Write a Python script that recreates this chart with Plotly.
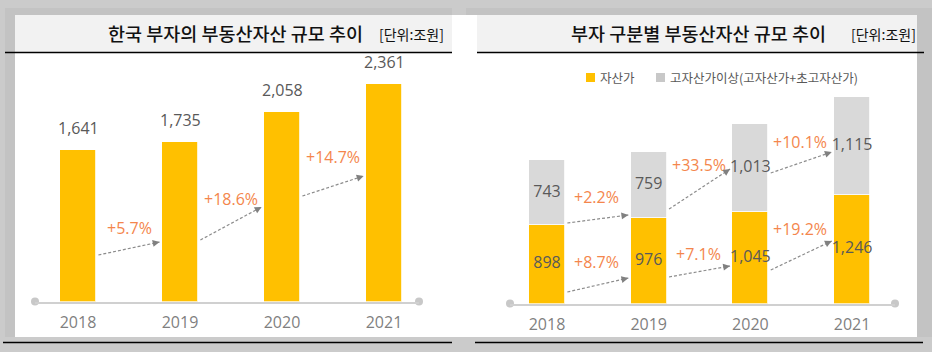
import plotly.graph_objects as go

# ---------------- data ----------------
years = ["2018", "2019", "2020", "2021"]
total_assets = [1641, 1735, 2058, 2361]              # 한국 부자의 부동산자산
total_growth = ["+5.7%", "+18.6%", "+14.7%"]
wealthy = [898, 976, 1045, 1246]                     # 자산가
high_wealthy = [743, 759, 1013, 1115]                # 고자산가이상
wealthy_growth = ["+8.7%", "+7.1%", "+19.2%"]
high_growth = ["+2.2%", "+33.5%", "+10.1%"]

left_title = "한국 부자의 부동산자산 규모 추이"
right_title = "부자 구분별 부동산자산 규모 추이"
unit_label = "[단위:조원]"
legend_names = ["자산가", "고자산가이상(고자산가+초고자산가)"]

# ---------------- style / layout ----------------
W, H = 932, 352
GOLD = "#FFC000"
LGRAY = "#D9D9D9"
ORANGE = "#F4864C"
VAL = "#595959"
TICK = "#7F7F7F"
NUM_FONT = "Open Sans, Noto Sans CJK KR, sans-serif"
KR_FONT = "Noto Sans CJK KR, sans-serif"
NUM_WEIGHT = 400


def PX(x):
    return x / W


def PY(y):
    return 1 - y / H


idx = list(range(len(years)))

# subplot geometry (pixels)
L_XDOM, L_YDOM = (35, 419), (301.5, 60)
R_XDOM, R_YDOM = (510, 895), (303.5, 90)
L_XR, L_YR = [-0.4216, 3.3431], [0, 2622]
R_XR, R_YR = [-0.3638, 3.4218], [0, 2446]
BAR_W = 0.355

# growth label positions (axis units) and arrow positions
L_LAB_Y = [798, 1113, 1569]
L_ARR = [(505, 646), (668, 1026), (1145, 1363)]
R_TOP_LAB_Y = [1220, 1586, 1850]
R_BOT_LAB_Y = [475, 567, 853]
R_TOP_ARR = [(922, 1014), (1082, 1541), (1495, 1735)]
R_BOT_ARR = [(132, 292), (304, 430), (384, 716)]
ARR_X0, ARR_X1 = 0.2, 0.8


def nfont(color, size=16):
    return dict(family=NUM_FONT, size=size, color=color, weight=NUM_WEIGHT)


fig = go.Figure()

# left bars
fig.add_trace(go.Bar(x=idx, y=total_assets, xaxis="x", yaxis="y", width=BAR_W,
                     marker=dict(color=GOLD, line=dict(color="white", width=0.8)),
                     showlegend=False, hoverinfo="skip"))
# right stacked bars
fig.add_trace(go.Bar(x=idx, y=wealthy, xaxis="x2", yaxis="y2", width=BAR_W,
                     marker=dict(color=GOLD, line=dict(color="white", width=0.8)),
                     name=legend_names[0], showlegend=False, hoverinfo="skip"))
fig.add_trace(go.Bar(x=idx, y=high_wealthy, xaxis="x2", yaxis="y2", width=BAR_W,
                     marker=dict(color=LGRAY, line=dict(color="white", width=0.8)),
                     name=legend_names[1], showlegend=False, hoverinfo="skip"))

# segment labels on right bars
fig.add_trace(go.Scatter(x=idx, y=[v / 2 for v in wealthy], xaxis="x2", yaxis="y2",
                         mode="text", text=[f"{v:,}" for v in wealthy],
                         textfont=nfont(VAL),
                         cliponaxis=False, showlegend=False, hoverinfo="skip"))
fig.add_trace(go.Scatter(x=idx, y=[a + b / 2 for a, b in zip(wealthy, high_wealthy)],
                         xaxis="x2", yaxis="y2", mode="text",
                         text=[f"{v:,}" for v in high_wealthy],
                         textfont=nfont(VAL),
                         cliponaxis=False, showlegend=False, hoverinfo="skip"))

# axis end dots
fig.add_trace(go.Scatter(x=L_XR, y=[0, 0], xaxis="x", yaxis="y", mode="markers",
                         marker=dict(size=8, color="#C8C8C8"), cliponaxis=False,
                         showlegend=False, hoverinfo="skip"))
fig.add_trace(go.Scatter(x=R_XR, y=[0, 0], xaxis="x2", yaxis="y2", mode="markers",
                         marker=dict(size=8, color="#C8C8C8"), cliponaxis=False,
                         showlegend=False, hoverinfo="skip"))

shapes = []
annotations = []

# ----- panel backgrounds -----
SHADOW = "#C3C3C3"
def rect(x0, y0, x1, y1, color):
    shapes.append(dict(type="rect", xref="paper", yref="paper", x0=PX(x0), x1=PX(x1),
                       y0=PY(y1), y1=PY(y0), fillcolor=color, line=dict(width=0),
                       layer="below"))

rect(5, 8, 452, 15, SHADOW)
rect(5, 8, 15, 337, SHADOW)
rect(466, 8, 932, 15, SHADOW)
rect(917, 8, 932, 337, SHADOW)
rect(15, 15, 917, 337, "white")
rect(15, 15, 452, 52, "#F2F2F2")
rect(477, 15, 917, 52, "#F2F2F2")

def hline(x0, x1, y, color="black", width=1.5):
    shapes.append(dict(type="line", xref="paper", yref="paper", x0=PX(x0), x1=PX(x1),
                       y0=PY(y), y1=PY(y), line=dict(color=color, width=width),
                       layer="above"))

hline(5, 452, 52.5)
hline(477, 924, 52.5)
hline(3, 452, 342.5)
hline(475, 923, 342.5)

# ----- titles -----
def ptext(x, y, text, size, color="black", xanchor="left", family=KR_FONT, weight=None):
    f = dict(family=family, size=size, color=color)
    if weight:
        f["weight"] = weight
    annotations.append(dict(xref="paper", yref="paper", x=PX(x), y=PY(y), text=text,
                            showarrow=False, xanchor=xanchor, yanchor="middle", font=f))

ptext(365, 33, left_title, 18.5, color="#111111", xanchor="right", weight=500)
ptext(446, 34, unit_label, 14, color="#111111", xanchor="right")
ptext(828, 33, right_title, 18.5, color="#111111", xanchor="right", weight=500)
ptext(918, 34, unit_label, 14, color="#111111", xanchor="right")

# ----- legend (manual) -----
rect(586, 73, 595, 82, GOLD)
rect(656, 73, 665, 82, "#C8C8C8")
ptext(598, 77, legend_names[0], 12.5, color=VAL)
ptext(668, 77, legend_names[1], 12.5, color=VAL)

# ----- left value labels -----
for i, v in enumerate(total_assets):
    annotations.append(dict(xref="x", yref="y", x=i, y=v, text=f"{v:,}", showarrow=False,
                            yanchor="middle", yshift=22, font=nfont(VAL)))

# ----- growth labels & arrows -----
def px_per_unit(xdom, yr_dom, xr, yr):
    sx = (xdom[1] - xdom[0]) / (xr[1] - xr[0])
    sy = (yr_dom[0] - yr_dom[1]) / (yr[1] - yr[0])
    return sx, sy

def arrow(xref, yref, x0, y0, x1, y1, sx, sy):
    shapes.append(dict(type="line", xref=xref, yref=yref, x0=x0, y0=y0, x1=x1, y1=y1,
                       line=dict(color="#8C8C8C", width=1.2, dash="3px,2px"),
                       layer="above"))
    dx = (x1 - x0) * sx
    dy = -(y1 - y0) * sy
    n = (dx ** 2 + dy ** 2) ** 0.5
    annotations.append(dict(xref=xref, yref=yref, x=x1, y=y1, ax=-dx / n * 4,
                            ay=-dy / n * 4, axref="pixel", ayref="pixel", text="",
                            showarrow=True, arrowhead=2, arrowsize=1.15, arrowwidth=1.2,
                            arrowcolor="#808080", standoff=0))

def glabel(xref, yref, x, y, text):
    annotations.append(dict(xref=xref, yref=yref, x=x, y=y, text=text, showarrow=False,
                            xanchor="center", yanchor="middle", font=nfont(ORANGE)))

sxL, syL = px_per_unit(L_XDOM, L_YDOM, L_XR, L_YR)
for i, g in enumerate(total_growth):
    glabel("x", "y", i + 0.5, L_LAB_Y[i], g)
    arrow("x", "y", i + ARR_X0, L_ARR[i][0], i + ARR_X1, L_ARR[i][1], sxL, syL)

sxR, syR = px_per_unit(R_XDOM, R_YDOM, R_XR, R_YR)
for i in range(3):
    glabel("x2", "y2", i + 0.49, R_TOP_LAB_Y[i], high_growth[i])
    glabel("x2", "y2", i + 0.49, R_BOT_LAB_Y[i], wealthy_growth[i])
    arrow("x2", "y2", i + ARR_X0, R_TOP_ARR[i][0], i + ARR_X1, R_TOP_ARR[i][1], sxR, syR)
    arrow("x2", "y2", i + ARR_X0, R_BOT_ARR[i][0], i + ARR_X1, R_BOT_ARR[i][1], sxR, syR)

xaxis_common = dict(tickmode="array", tickvals=idx, ticktext=years, showline=True,
                    linecolor="#D0D0D0", linewidth=2, showgrid=False, zeroline=False,
                    ticks="outside", ticklen=5, tickcolor="rgba(0,0,0,0)",
                    tickfont=nfont(TICK), fixedrange=True)
yaxis_common = dict(visible=False, showgrid=False, zeroline=False, fixedrange=True)

fig.update_layout(
    width=W, height=H, margin=dict(l=0, r=0, t=0, b=0), autosize=False,
    paper_bgcolor="#CBCBCB", plot_bgcolor="rgba(0,0,0,0)",
    barmode="stack", bargap=0,
    xaxis=dict(domain=[PX(L_XDOM[0]), PX(L_XDOM[1])], range=L_XR, anchor="y", **xaxis_common),
    yaxis=dict(domain=[PY(L_YDOM[0]), PY(L_YDOM[1])], range=L_YR, anchor="x", **yaxis_common),
    xaxis2=dict(domain=[PX(R_XDOM[0]), PX(R_XDOM[1])], range=R_XR, anchor="y2", **xaxis_common),
    yaxis2=dict(domain=[PY(R_YDOM[0]), PY(R_YDOM[1])], range=R_YR, anchor="x2", **yaxis_common),
    shapes=shapes, annotations=annotations, showlegend=False,
)

fig.write_html("out.html")
